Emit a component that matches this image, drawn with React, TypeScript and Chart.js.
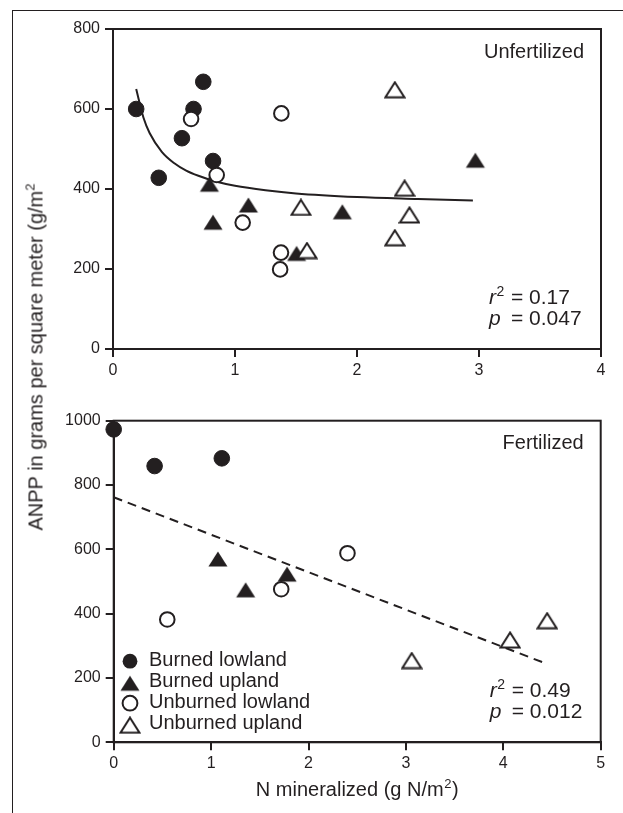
import React, { useEffect, useRef } from 'react';
import { Chart, registerables } from 'chart.js';

Chart.register(...registerables);

const FONT = '"Liberation Sans", Arial, Helvetica, sans-serif';
const INK = '#231f20';

// ---- Legend / series names ----
const seriesLabels = ['Burned lowland', 'Burned upland', 'Unburned lowland', 'Unburned upland'];

// ---- Top panel: Unfertilized ----
const unfBurnedLowland = [
  { x: 0.19, y: 600 }, { x: 0.375, y: 428 }, { x: 0.565, y: 527 },
  { x: 0.66, y: 600 }, { x: 0.74, y: 668 }, { x: 0.82, y: 470 },
];
const unfBurnedUpland = [
  { x: 0.79, y: 412 }, { x: 0.82, y: 317 }, { x: 1.11, y: 360 },
  { x: 1.505, y: 239 }, { x: 1.88, y: 343 }, { x: 2.97, y: 472 },
];
const unfUnburnedLowland = [
  { x: 0.64, y: 575 }, { x: 0.85, y: 435 }, { x: 1.063, y: 316 },
  { x: 1.377, y: 241 }, { x: 1.37, y: 199 }, { x: 1.38, y: 589 },
];
const unfUnburnedUpland = [
  { x: 1.54, y: 354 }, { x: 1.59, y: 246 }, { x: 2.31, y: 648 },
  { x: 2.39, y: 402 }, { x: 2.43, y: 335 }, { x: 2.31, y: 278 },
];
const unfFitCurve = [
  { x: 0.19, y: 650 }, { x: 0.25, y: 578 }, { x: 0.3, y: 540 }, { x: 0.4, y: 493 },
  { x: 0.5, y: 465 }, { x: 0.6, y: 446 }, { x: 0.7, y: 433 }, { x: 0.85, y: 418 },
  { x: 1.0, y: 408 }, { x: 1.25, y: 397 }, { x: 1.5, y: 389 }, { x: 2.0, y: 380 },
  { x: 2.5, y: 375 }, { x: 2.95, y: 371 },
];
const unfXTicks = { min: 0, max: 4, step: 1 };
const unfYTicks = { min: 0, max: 800, step: 200 };
const unfStats = { title: 'Unfertilized', r2: '0.17', p: '0.047' };

// ---- Bottom panel: Fertilized ----
const ferBurnedLowland = [{ x: 0, y: 973 }, { x: 0.42, y: 859 }, { x: 1.11, y: 883 }];
const ferBurnedUpland = [{ x: 1.07, y: 570 }, { x: 1.355, y: 474 }, { x: 1.78, y: 523 }];
const ferUnburnedLowland = [{ x: 0.55, y: 382 }, { x: 1.72, y: 476 }, { x: 2.4, y: 588 }];
const ferUnburnedUpland = [{ x: 3.06, y: 254 }, { x: 4.07, y: 318 }, { x: 4.45, y: 378 }];
const ferFitLine = [{ x: 0, y: 762 }, { x: 4.42, y: 247 }];
const ferXTicks = { min: 0, max: 5, step: 1 };
const ferYTicks = { min: 0, max: 1000, step: 200 };
const ferStats = { title: 'Fertilized', r2: '0.49', p: '0.012' };

const xTitleMain = 'N mineralized (g N/m';
const yTitleMain = 'ANPP in grams per square meter (g/m';

function makeTriangle(filled: boolean): HTMLCanvasElement {
  const c = document.createElement('canvas');
  c.width = 22;
  c.height = 18;
  const ctx = c.getContext('2d')!;
  ctx.beginPath();
  ctx.moveTo(11, 1.5);
  ctx.lineTo(20.5, 16.5);
  ctx.lineTo(1.5, 16.5);
  ctx.closePath();
  if (filled) {
    ctx.fillStyle = INK;
    ctx.fill();
  } else {
    ctx.fillStyle = '#ffffff';
    ctx.fill();
    ctx.lineWidth = 2;
    ctx.strokeStyle = INK;
    ctx.stroke();
  }
  return c;
}

function markerDatasets(data: any[][], triF: HTMLCanvasElement, triO: HTMLCanvasElement) {
  return [
    {
      label: seriesLabels[0], data: data[0], pointStyle: 'circle', pointRadius: 7.8,
      backgroundColor: INK, borderColor: INK, borderWidth: 1, order: 3, clip: false,
    },
    {
      label: seriesLabels[1], data: data[1], pointStyle: triF, pointRadius: 8,
      backgroundColor: INK, borderColor: INK, order: 2, clip: false,
    },
    {
      label: seriesLabels[2], data: data[2], pointStyle: 'circle', pointRadius: 7.3,
      backgroundColor: '#ffffff', borderColor: INK, borderWidth: 2, order: 1, clip: false,
    },
    {
      label: seriesLabels[3], data: data[3], pointStyle: triO, pointRadius: 8,
      backgroundColor: '#ffffff', borderColor: INK, order: 0, clip: false,
    },
  ];
}

function makeScales(xt: any, yt: any, yWidth: number, xHeight: number) {
  const grid = { drawOnChartArea: false, drawTicks: true, tickLength: 8, lineWidth: 2, color: INK };
  const border = { display: true, width: 2, color: INK };
  const fmt = (v: any) => String(v);
  return {
    x: {
      type: 'linear', min: xt.min, max: xt.max,
      ticks: { stepSize: xt.step, color: INK, font: { family: FONT, size: 16 }, padding: 4, callback: fmt },
      grid, border,
      afterFit: (s: any) => { s.height = xHeight; },
    },
    y: {
      type: 'linear', min: yt.min, max: yt.max,
      ticks: { stepSize: yt.step, color: INK, font: { family: FONT, size: 16 }, padding: 5, callback: fmt },
      grid, border,
      afterFit: (s: any) => { s.width = yWidth; },
    },
  };
}

const decorPlugin = {
  id: 'panelDecor',
  beforeDatasetsDraw(chart: any) {
    const { ctx, chartArea: a } = chart;
    ctx.save();
    ctx.strokeStyle = INK;
    ctx.lineWidth = 2;
    ctx.strokeRect(a.left, a.top, a.right - a.left, a.bottom - a.top);
    ctx.restore();
  },
  afterDraw(chart: any, _args: any, opts: any) {
    const { ctx, chartArea: a } = chart;
    ctx.save();
    ctx.fillStyle = INK;
    ctx.textBaseline = 'alphabetic';

    // Panel title
    ctx.font = `20px ${FONT}`;
    ctx.textAlign = 'right';
    ctx.fillText(opts.title, a.right - 17, a.top + 28.5);

    // Statistics
    ctx.textAlign = 'left';
    const x0 = a.left + 376;
    const xEq = a.left + 398;
    const y1 = a.bottom - 45;
    const y2 = a.bottom - 24;
    ctx.font = `italic 21px ${FONT}`;
    ctx.fillText('r', x0, y1);
    const rw = ctx.measureText('r').width;
    ctx.fillText('p', x0, y2);
    ctx.font = `14px ${FONT}`;
    ctx.fillText('2', x0 + rw + 0.5, y1 - 8);
    ctx.font = `21px ${FONT}`;
    ctx.fillText('= ' + opts.r2, xEq, y1);
    ctx.fillText('= ' + opts.p, xEq, y2);

    if (opts.legend) {
      const triF = opts.triF as HTMLCanvasElement;
      const triO = opts.triO as HTMLCanvasElement;
      const sx = a.left + 16.3;
      const tx = a.left + 35.3;
      ctx.font = `20px ${FONT}`;
      seriesLabels.forEach((lab, i) => {
        const base = a.bottom - 76.3 + i * 21;
        const cy = base - 4.8;
        if (i === 0 || i === 2) {
          ctx.beginPath();
          ctx.arc(sx, cy, 7.4, 0, Math.PI * 2);
          if (i === 0) {
            ctx.fillStyle = INK;
            ctx.fill();
          } else {
            ctx.fillStyle = '#ffffff';
            ctx.fill();
            ctx.lineWidth = 2;
            ctx.strokeStyle = INK;
            ctx.stroke();
          }
        } else {
          const img = i === 1 ? triF : triO;
          ctx.drawImage(img, sx - img.width / 2, cy - img.height / 2 + 1);
        }
        ctx.fillStyle = INK;
        ctx.fillText(lab, tx, base);
      });
    }

    if (opts.xTitle) {
      const cx = (a.left + a.right) / 2;
      const by = a.bottom + 54;
      ctx.font = `20px ${FONT}`;
      const w1 = ctx.measureText(xTitleMain).width;
      const w3 = ctx.measureText(')').width;
      ctx.font = `13px ${FONT}`;
      const w2 = ctx.measureText('2').width;
      const total = w1 + w2 + w3 + 1;
      let x = cx - total / 2;
      ctx.font = `20px ${FONT}`;
      ctx.fillText(xTitleMain, x, by);
      x += w1;
      ctx.font = `13px ${FONT}`;
      ctx.fillText('2', x + 0.5, by - 8);
      x += w2 + 1;
      ctx.font = `20px ${FONT}`;
      ctx.fillText(')', x, by);
    }
    ctx.restore();
  },
};

export default function App() {
  const topRef = useRef<HTMLCanvasElement | null>(null);
  const botRef = useRef<HTMLCanvasElement | null>(null);

  useEffect(() => {
    const triF = makeTriangle(true);
    const triO = makeTriangle(false);

    const common = {
      responsive: false,
      animation: false,
      events: [],
      plugins: { legend: { display: false }, tooltip: { enabled: false } },
    };

    const top = new Chart(topRef.current!, {
      type: 'scatter',
      data: {
        datasets: [
          ...markerDatasets([unfBurnedLowland, unfBurnedUpland, unfUnburnedLowland, unfUnburnedUpland], triF, triO),
          {
            label: 'fit', data: unfFitCurve, showLine: true, pointRadius: 0, borderColor: INK,
            borderWidth: 2, cubicInterpolationMode: 'monotone', fill: false, order: 10,
          },
        ],
      } as any,
      options: {
        ...common,
        layout: { padding: { left: 0, top: 29, right: 22, bottom: 0 } },
        scales: makeScales(unfXTicks, unfYTicks, 113, 51),
        plugins: {
          ...common.plugins,
          panelDecor: { ...unfStats, legend: false, xTitle: false },
        },
      } as any,
      plugins: [decorPlugin],
    });

    const bot = new Chart(botRef.current!, {
      type: 'scatter',
      data: {
        datasets: [
          ...markerDatasets([ferBurnedLowland, ferBurnedUpland, ferUnburnedLowland, ferUnburnedUpland], triF, triO),
          {
            label: 'fit', data: ferFitLine, showLine: true, pointRadius: 0, borderColor: INK,
            borderWidth: 2, borderDash: [9, 6], fill: false, order: 10,
          },
        ],
      } as any,
      options: {
        ...common,
        layout: { padding: { left: 0, top: 20.7, right: 22.3, bottom: 0 } },
        scales: makeScales(ferXTicks, ferYTicks, 113.7, 70.7),
        plugins: {
          ...common.plugins,
          panelDecor: { ...ferStats, legend: true, xTitle: true, triF, triO },
        },
      } as any,
      plugins: [decorPlugin],
    });

    return () => {
      top.destroy();
      bot.destroy();
    };
  }, []);

  return (
    <div
      style={{
        position: 'fixed', left: 0, top: 0, width: 623, height: 813,
        background: '#ffffff', overflow: 'hidden', fontFamily: FONT,
      }}
    >
      <div
        style={{
          position: 'absolute', left: 12, top: 9.5, width: 700, height: 900,
          borderTop: `1.5px solid ${INK}`, borderLeft: `1.5px solid ${INK}`,
        }}
      />
      <canvas
        ref={topRef}
        width={623}
        height={400}
        style={{ position: 'absolute', left: 0, top: 0, width: 623, height: 400, display: 'block' }}
      />
      <canvas
        ref={botRef}
        width={623}
        height={413}
        style={{ position: 'absolute', left: 0, top: 400, width: 623, height: 413, display: 'block' }}
      />
      <div
        style={{
          position: 'absolute', left: 37, top: 357, transform: 'translate(-50%, -50%) rotate(-90deg)',
          whiteSpace: 'nowrap', fontSize: 20, lineHeight: '24px', color: INK, fontFamily: FONT,
        }}
      >
        {yTitleMain}
        <span style={{ fontSize: 13, position: 'relative', top: -8 }}>2</span>
      </div>
    </div>
  );
}
